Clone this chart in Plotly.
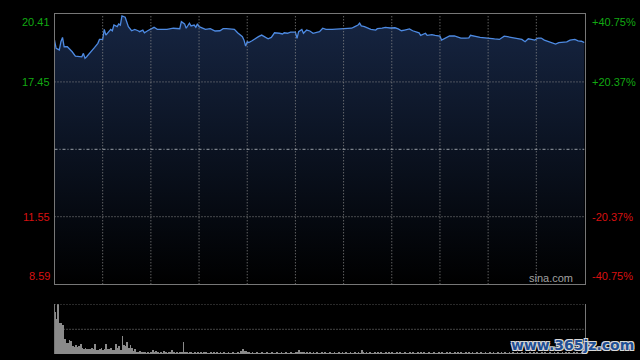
import plotly.graph_objects as go

# ---------------- data ----------------
times = ["09:30","09:31","09:33","09:34","09:35","09:36","09:38","09:39","09:41","09:43",
         "09:45","09:47","09:48","09:49","09:50","09:53","09:55","09:57","09:58","10:00",
         "10:01","10:02","10:03","10:05","10:06","10:07","10:09","10:10","10:11","10:12",
         "10:14","10:15","10:16","10:18","10:20","10:22","10:23","10:25","10:26","10:28",
         "10:30","10:32","10:34","10:36","10:40","10:44","10:48","10:49","10:51","10:52",
         "10:54","10:55","10:57","10:58","10:59","11:00","11:02","11:04","11:07","11:10",
         "11:13","11:15","11:17","11:20","11:22","11:24","11:27","11:28","11:29","11:30",
         "11:31","11:33","11:35","11:37","11:39","11:41","11:43","11:45","11:47","11:50",
         "11:52","11:53","11:55","11:57","12:00","13:01","13:02","13:04","13:05","13:07",
         "13:09","13:11","13:13","13:15","13:17","13:19","13:23","13:27","13:32","13:35",
         "13:37","13:39","13:40","13:41","13:43","13:45","13:47","13:50","13:51","13:54",
         "13:56","13:59","14:02","14:04","14:06","14:08","14:11","14:13","14:15","14:17",
         "14:18","14:21","14:22","14:25","14:27","14:29","14:30","14:31","14:33","14:36",
         "14:39","14:41","14:43","14:46","14:48","14:49","14:52","14:55","14:58","15:01",
         "15:04","15:07","15:10","15:12","15:15","15:18","15:21","15:23","15:25","15:27",
         "15:29","15:31","15:33","15:35","15:37","15:40","15:42","15:44","15:47","15:49",
         "15:51","15:54","15:56","15:58","16:00"]

prices = [19.28,18.92,18.85,19.21,19.40,18.99,18.99,18.92,18.77,18.58,
          18.55,18.55,18.70,18.48,18.55,18.77,18.96,19.14,19.31,19.31,
          19.75,19.50,19.58,19.75,19.69,19.94,19.87,19.99,19.94,20.34,
          20.28,20.02,19.87,19.69,19.75,19.69,19.65,19.72,19.60,19.69,
          19.77,19.84,19.75,19.75,19.75,19.80,19.78,20.09,19.99,19.80,
          20.02,19.90,19.94,19.84,19.99,19.87,19.80,19.75,19.78,19.68,
          19.69,19.78,19.78,19.78,19.75,19.60,19.43,19.28,19.02,19.21,
          19.17,19.25,19.36,19.43,19.50,19.43,19.34,19.40,19.60,19.58,
          19.55,19.60,19.58,19.63,19.63,19.36,19.65,19.75,19.58,19.72,
          19.68,19.58,19.60,19.65,19.80,19.75,19.75,19.77,19.77,19.80,
          19.87,19.94,20.02,19.90,19.87,19.80,19.75,19.72,19.78,19.80,
          19.84,19.81,19.82,19.77,19.69,19.72,19.77,19.69,19.63,19.60,
          19.49,19.58,19.49,19.52,19.49,19.49,19.46,19.28,19.34,19.46,
          19.46,19.43,19.37,19.37,19.38,19.49,19.43,19.40,19.38,19.34,
          19.33,19.31,19.45,19.43,19.38,19.34,19.31,19.21,19.34,19.31,
          19.28,19.37,19.37,19.28,19.23,19.17,19.11,19.17,19.20,19.20,
          19.28,19.31,19.25,19.23,19.17]

# one volume value per session minute (09:30 .. 16:00, lunch removed), relative units
volume = [85,70,100,63,63,59,30,22,23,29,
          27,17,15,19,14,17,21,12,10,12,
          10,11,10,12,11,21,8,9,11,13,
          9,10,21,11,11,12,8,9,21,12,
          17,9,37,19,17,25,12,19,12,6,
          10,4,4,6,4,3,3,2,3,2,
          4,9,3,7,3,2,3,2,7,3,
          2,5,3,9,3,2,3,2,4,3,
          24,4,3,2,3,3,2,3,2,3,
          2,3,2,3,3,2,2,3,2,4,
          2,5,2,3,2,3,2,2,3,2,
          2,3,2,2,3,2,6,10,7,7,
          5,3,2,3,2,2,3,2,2,3,
          2,2,3,2,2,3,2,2,3,2,
          2,3,2,2,3,2,2,3,2,2,
          3,5,8,3,5,3,2,3,2,3,
          2,3,2,3,2,2,3,2,3,2,
          2,3,2,2,3,2,2,3,2,3,
          2,3,2,2,3,2,2,3,2,3,
          2,9,3,2,3,2,3,2,2,3,
          2,3,2,3,2,2,3,2,3,2,
          3,2,2,3,2,3,2,2,3,2,
          2,3,2,3,2,2,3,2,3,2,
          3,2,2,3,2,2,3,2,2,3,
          2,3,2,2,3,2,3,2,2,3,
          2,3,2,3,2,2,3,2,3,2,
          3,2,2,3,2,3,2,2,3,2,
          2,3,2,3,2,2,3,2,3,2,
          3,2,2,3,2,3,2,2,3,2,
          2,3,2,3,2,2,3,2,3,2,
          3,2,2,3,2,3,2,2,3,2,
          2,3,2,3,2,2,3,2,3,2,
          3,2,2,3,2,3,2,2,3,2,
          2]

price_levels = [20.41, 17.45, 11.55, 8.59]
price_labels = ["20.41", "17.45", "11.55", "8.59"]
pct_labels = ["+40.75%", "+20.37%", "-20.37%", "-40.75%"]
base_price = 14.50
half_hour_slots = [30, 60, 90, 120, 150, 180, 210, 240, 270, 300]
session_end = 330
vol_grid = [50, 100]


def slot(t):
    h, m = map(int, t.split(":"))
    mins = h * 60 + m
    if mins <= 12 * 60:
        return mins - (9 * 60 + 30)
    return mins - 13 * 60 + 150


x_price = [slot(t) for t in times]
x_vol = list(range(len(volume)))

# ---------------- figure ----------------
W, H = 640, 360
L, R = 54.5, 584.5
MT, MB = 14.3, 284.3
VT, VB = 304.3, 354.3

GREEN = "#12a812"
RED = "#d81010"
GRID = "#8a8a8a"
BORDER = "#777777"
DOT = "1px,2px"

fig = go.Figure()

fig.add_trace(go.Scatter(
    x=x_price, y=prices, mode="lines",
    line=dict(color="#4d8ae2", width=1.3),
    fill="tozeroy",
    fillgradient=dict(type="vertical",
                      colorscale=[[0, "rgb(0,0,0)"], [1, "rgb(22,37,66)"]],
                      start=price_levels[-1], stop=price_levels[0]),
    xaxis="x", yaxis="y", hoverinfo="x+y", showlegend=False))

fig.add_trace(go.Bar(
    x=x_vol, y=volume, width=0.5,
    marker=dict(color="#8a8a8a", line=dict(width=0)),
    xaxis="x2", yaxis="y2", showlegend=False))

fig.update_layout(
    width=W, height=H,
    margin=dict(l=0, r=0, t=0, b=0),
    paper_bgcolor="black", plot_bgcolor="black",
    bargap=0,
    xaxis=dict(domain=[L / W, R / W], range=[0, session_end],
               showticklabels=False, ticks="", showgrid=False,
               showline=True, mirror=True, linecolor=BORDER, linewidth=1,
               zeroline=False),
    yaxis=dict(domain=[1 - MB / H, 1 - MT / H],
               range=[price_levels[-1], price_levels[0]],
               showticklabels=False, ticks="", showgrid=False,
               showline=True, mirror=True, linecolor=BORDER, linewidth=1,
               zeroline=False),
    xaxis2=dict(domain=[L / W, R / W], range=[0, session_end], anchor="y2",
                showticklabels=False, showgrid=False, zeroline=False,
                showline=False),
    yaxis2=dict(domain=[1 - VB / H, 1 - VT / H], range=[0, 100], anchor="x2",
                showticklabels=False, ticks="", showgrid=False,
                showline=True, mirror=True, linecolor=BORDER, linewidth=1,
                zeroline=False),
    font=dict(family="Liberation Sans, Arial, sans-serif", size=11),
)

# grid lines drawn above the filled area
for s in half_hour_slots:
    fig.add_shape(type="line", xref="x", yref="y", x0=s, x1=s,
                  y0=price_levels[-1], y1=price_levels[0], layer="above",
                  line=dict(color=GRID, width=1, dash=DOT))
for lv in (price_levels[1], price_levels[2]):
    fig.add_shape(type="line", xref="x", yref="y", x0=0, x1=session_end,
                  y0=lv, y1=lv, layer="above",
                  line=dict(color=GRID, width=1, dash=DOT))
for g in vol_grid:
    fig.add_shape(type="line", xref="x2", yref="y2", x0=0, x1=session_end,
                  y0=g, y1=g, layer="above",
                  line=dict(color=GRID, width=1, dash=DOT))

# base-price dash-dot line
fig.add_shape(type="line", xref="x", yref="y", x0=0, x1=session_end,
              y0=base_price, y1=base_price, layer="above",
              line=dict(color="#9aa0a8", width=1, dash="3px,2px,1px,2px"))

# axis labels
anchors = ["top", "middle", "middle", "bottom"]
colors = [GREEN, GREEN, RED, RED]
for lv, pl, pc, an, col in zip(price_levels, price_labels, pct_labels, anchors, colors):
    fig.add_annotation(xref="paper", yref="y", x=(L - 3) / W, y=lv,
                       text=pl, showarrow=False, xanchor="right", yanchor=an,
                       font=dict(color=col, size=11))
    fig.add_annotation(xref="paper", yref="y", x=(R + 5) / W, y=lv,
                       text=pc, showarrow=False, xanchor="left", yanchor=an,
                       font=dict(color=col, size=11))

fig.add_annotation(xref="paper", yref="y", x=575 / W, y=price_levels[-1],
                   text="sina.com", showarrow=False, xanchor="right",
                   yanchor="bottom", yshift=-2,
                   font=dict(color="#a0a0a0", size=11))

fig.add_annotation(xref="paper", yref="paper", x=636 / W, y=1 - 345 / H,
                   text="<b>www.365jz.com</b>", showarrow=False,
                   xanchor="right", yanchor="middle",
                   font=dict(color="#1f4f95", size=14,
                             family="DejaVu Sans, sans-serif",
                             shadow="1px 1px 0 #d8d8d8, -1px -1px 0 #d8d8d8, 1px -1px 0 #d8d8d8, -1px 1px 0 #d8d8d8"))

fig.write_html("out.html", config={"displayModeBar": False},
               post_script="document.body.style.margin='0';document.body.style.background='black';")
